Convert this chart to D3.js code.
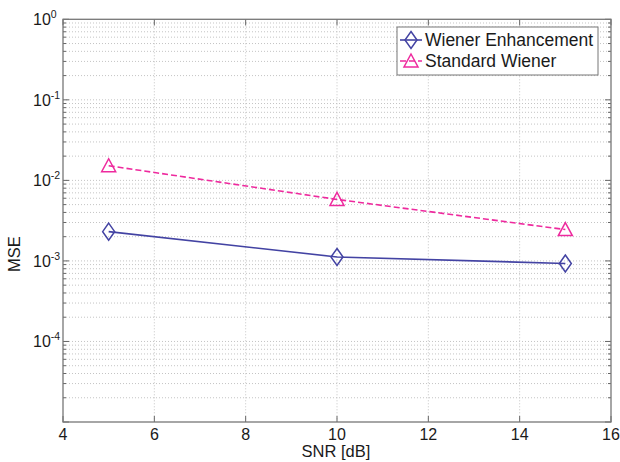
<!DOCTYPE html>
<html><head><meta charset="utf-8">
<script src="https://cdn.jsdelivr.net/npm/d3@7"></script>
<style>body{margin:0;background:#fff}text{font-family:"Liberation Sans",Arial,Helvetica,sans-serif;fill:#1a1a1a}</style>
</head><body><svg id="c" width="620" height="462"></svg>
<script>
const snr = [5, 10, 15];
const wienerEnh = [0.00231, 0.00112, 0.00093];
const standardWiener = [0.0152, 0.0058, 0.00245];
const seriesNames = ["Wiener Enhancement", "Standard Wiener"];
const xTicks = [4, 6, 8, 10, 12, 14, 16];
const yExponents = [0, -1, -2, -3, -4];

const svg = d3.select("#c");
const L = 63, R = 611, T = 19.3, B = 422;
const x = d3.scaleLinear().domain([4, 16]).range([L, R]);
const y = d3.scaleLog().domain([1e-5, 1]).range([B, T]);

const minor = [];
for (let e = -5; e < 0; e++) for (let m = 1; m <= 9; m++) minor.push(m * Math.pow(10, e));
minor.push(1);

const grid = svg.append("g");
grid.selectAll("line.gy").data(minor.filter(v => v > 1e-5 && v < 1)).join("line")
  .attr("x1", L).attr("x2", R).attr("y1", d => y(d)).attr("y2", d => y(d))
  .attr("stroke", "#c4c4c4").attr("stroke-width", 1).attr("stroke-dasharray", "1,2");
grid.selectAll("line.gx").data(xTicks.slice(1, -1)).join("line")
  .attr("x1", d => x(d)).attr("x2", d => x(d)).attr("y1", T).attr("y2", B)
  .attr("stroke", "#c4c4c4").attr("stroke-width", 1).attr("stroke-dasharray", "1,2");

// ticks (inward) on all four sides
const tk = svg.append("g").attr("stroke", "#666").attr("stroke-width", 1);
minor.forEach(v => {
  const isMajor = Math.abs(Math.log10(v) - Math.round(Math.log10(v))) < 1e-9;
  const len = isMajor ? 6 : 3;
  tk.append("line").attr("x1", L).attr("x2", L + len).attr("y1", y(v)).attr("y2", y(v));
  tk.append("line").attr("x1", R).attr("x2", R - len).attr("y1", y(v)).attr("y2", y(v));
});
xTicks.forEach(v => {
  tk.append("line").attr("x1", x(v)).attr("x2", x(v)).attr("y1", B).attr("y2", B - 6);
  tk.append("line").attr("x1", x(v)).attr("x2", x(v)).attr("y1", T).attr("y2", T + 6);
});

svg.append("rect").attr("x", L).attr("y", T).attr("width", R - L).attr("height", B - T)
  .attr("fill", "none").attr("stroke", "#777").attr("stroke-width", 1.3);

// tick labels
svg.append("g").selectAll("text").data(xTicks).join("text")
  .attr("x", d => x(d)).attr("y", 440).attr("text-anchor", "middle")
  .attr("font-size", 16).text(d => d);
const yl = svg.append("g").selectAll("text").data(yExponents).join("text")
  .attr("x", 33).attr("y", d => y(Math.pow(10, d)) + 6)
  .attr("font-size", 16);
yl.append("tspan").text("10");
yl.append("tspan").attr("font-size", 10.5).attr("dy", -7).text(d => d);

svg.append("text").attr("x", 336).attr("y", 457).attr("text-anchor", "middle")
  .attr("font-size", 16.5).text("SNR [dB]");
svg.append("text").attr("transform", "translate(20,254) rotate(-90)").attr("text-anchor", "middle")
  .attr("font-size", 16.5).text("MSE");

const blue = "#4343a3", pink = "#ee2a9e";
const diamond = "M0,-8.5L6,0L0,8.5L-6,0Z";
const tri = "M0,-7L7,6L-7,6Z";

const line = d3.line().x((d, i) => x(snr[i])).y(d => y(d));
svg.append("path").datum(wienerEnh).attr("d", line).attr("fill", "none")
  .attr("stroke", blue).attr("stroke-width", 1.6);
svg.append("path").datum(standardWiener).attr("d", line).attr("fill", "none")
  .attr("stroke", pink).attr("stroke-width", 1.6).attr("stroke-dasharray", "6,3");
svg.append("g").selectAll("path").data(wienerEnh).join("path")
  .attr("transform", (d, i) => `translate(${x(snr[i])},${y(d)})`).attr("d", diamond)
  .attr("fill", "none").attr("stroke", blue).attr("stroke-width", 1.5);
svg.append("g").selectAll("path").data(standardWiener).join("path")
  .attr("transform", (d, i) => `translate(${x(snr[i])},${y(d)})`).attr("d", tri)
  .attr("fill", "none").attr("stroke", pink).attr("stroke-width", 1.5);

// legend
const lg = svg.append("g");
lg.append("rect").attr("x", 397).attr("y", 27).attr("width", 201).attr("height", 48)
  .attr("fill", "#fff").attr("stroke", "#777").attr("stroke-width", 1);
const ly = [40, 61];
const cols = [blue, pink];
seriesNames.forEach((n, i) => {
  lg.append("line").attr("x1", 400).attr("x2", 422).attr("y1", ly[i]).attr("y2", ly[i])
    .attr("stroke", cols[i]).attr("stroke-width", 1.6).attr("stroke-dasharray", i ? "6,3" : null);
  lg.append("path").attr("transform", `translate(411,${ly[i]})`).attr("d", i ? tri : diamond)
    .attr("fill", "none").attr("stroke", cols[i]).attr("stroke-width", 1.5);
  lg.append("text").attr("x", 425).attr("y", ly[i] + 6).attr("font-size", 17.5)
    .attr("textLength", i ? null : 168).text(n);
});
</script></body></html>
